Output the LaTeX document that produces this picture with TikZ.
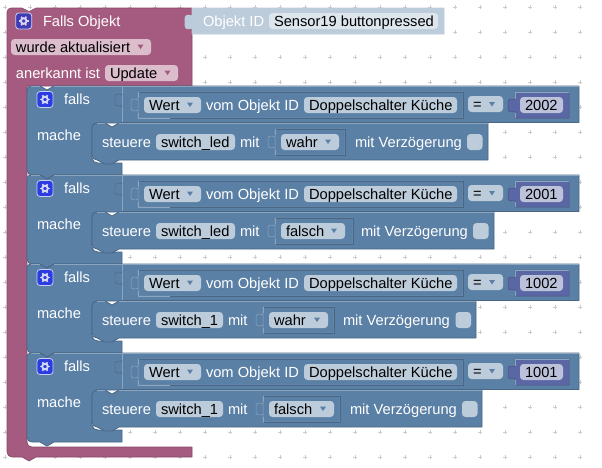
\documentclass[tikz,border=0pt]{standalone}
\usepackage{fontspec}
\usetikzlibrary{calc}
\setmainfont{Liberation Sans}
\definecolor{purp}{HTML}{A55B80}
\definecolor{purpd}{HTML}{84496A}
\definecolor{purpf}{HTML}{DBBDCC}
\definecolor{blu}{HTML}{5B80A5}
\definecolor{blud}{HTML}{496684}
\definecolor{bluh}{HTML}{8CA6C0}
\definecolor{bluf}{HTML}{BDCCDB}
\definecolor{shad}{HTML}{BDCCDB}
\definecolor{shadf}{HTML}{DEE6ED}
\definecolor{num}{HTML}{5B67A5}
\definecolor{numd}{HTML}{495284}
\definecolor{numf}{HTML}{BDC2DB}
\definecolor{gridc}{HTML}{CCCCCC}
\definecolor{iconp}{HTML}{3F3AB5}
\definecolor{iconb}{HTML}{2A3DE0}
\tikzset{
  lbl/.style={anchor=base west,inner sep=0pt,outer sep=0pt,font=\fontsize{14.67}{16}\selectfont},
  wlbl/.style={lbl,text=white},
  klbl/.style={lbl,text=black},
  fieldbox/.style={rounded corners=3.5pt},
  blockbody/.style={fill=blu,draw=blud,line width=.8pt,line join=round},
  hilite/.style={draw=bluh,line width=.8pt}
}
% tab: left-pointing puzzle tab on a vertical edge at x=#1, starting y=#2
\newcommand{\tabshape}[2]{(#1,#2) -- (#1,#2+2) .. controls (#1-3,#2) and (#1-7,#2+1) .. (#1-7,#2+3.5) -- (#1-7,#2+10.5) .. controls (#1-7,#2+13) and (#1-3,#2+14) .. (#1,#2+12) -- (#1,#2+15)}
\newcommand{\tri}[3]{\fill[#3] (#1-3,#2-2) -- (#1+3,#2-2) -- (#1,#2+2.5) -- cycle;}
\newcommand{\gear}[3]{%
  \fill[#3,rounded corners=3pt,draw=white!75!#3,line width=.8pt] (#1-8,#2-8) rectangle (#1+8,#2+8);
  \draw[white!80!#3,line width=1.9pt] (#1,#2) circle (2.8);
  \foreach \a in {0,60,...,300}{\draw[white!80!#3,line width=1.6pt] ($(#1,#2)+(\a:3)$) -- ($(#1,#2)+(\a:5)$);}
}
\begin{document}
\begin{tikzpicture}[x=1pt,y=-1pt]
\useasboundingbox (0,0) rectangle (602,467);
\fill[white] (0,0) rectangle (602,467);
% workspace grid
\foreach \i in {0,...,23}{\foreach \j in {0,...,18}{
  \draw[gridc,line width=.7pt] (5+25*\i-1.7,7+25*\j) -- (5+25*\i+1.7,7+25*\j) (5+25*\i,7+25*\j-1.7) -- (5+25*\i,7+25*\j+1.7);
}}
% hat block
\path[fill=purp,draw=purpd,line width=.6pt,line join=round]
  (7,12) .. controls (7,9.8) and (8.8,8) .. (11,8) -- (22,8) -- (29,11.5) -- (36,8) -- (192,8) -- (192,86) -- (27,86)
  -- (27,442) .. controls (27,445) and (29,447) .. (32,447) -- (192,447) -- (192,457) -- (36,457) -- (29,461) -- (22,457) -- (12,457)
  .. controls (9,457) and (7,455) .. (7,452) -- cycle;
% shadow id block
\path[fill=shad,draw=shad,line width=.6pt] (192,8) -- (444,8) -- (444,34) -- (192,34) -- (192,29) -- (192,28) .. controls (189,30) and (185,29) .. (185,26) -- (185,18) .. controls (185,15) and (189,14) .. (192,16) -- cycle;
\gear{23.7}{21}{iconp}
\node[wlbl] (hattitle) at (43,26) {Falls Objekt};
\node[wlbl] (idlabel) at (203,26) {Objekt ID};
\fill[shadf,fieldbox] (269,13) rectangle (438,29);
\node[klbl] (idvalue) at (274,26) {Sensor19 buttonpressed};
\fill[purpf,fieldbox] (11,39) rectangle (151,55);
\node[klbl] (aktual) at (16,52) {wurde aktualisiert};
\tri{140.5}{46.5}{purp}
\node[wlbl] (anerk) at (16,78) {anerkannt ist};
\fill[purpf,fieldbox] (105,65) rectangle (178,81);
\node[klbl] (update) at (110,78) {Update};
\tri{167.5}{72.5}{purp}
% rows
\foreach \n/\yy/\numv/\sw/\swe/\mitx/\frs/\fds/\val/\fde/\fre/\mvx/\chk/\rgt in {
  a/0/2002/switch\_led/235/240/275/281/wahr/339/345/356/467/488,
  b/89/2001/switch\_led/235/240/275/281/falsch/345/353/362/473/494,
  c/178/1002/switch\_1/223/228/263/269/wahr/328/334/344/455.5/476,
  d/267/1001/switch\_1/223/228/263/269/falsch/334/340/351/462/482}{
\begin{scope}[shift={(0,\yy)}]
  % C block
  \path[blockbody]
    (27,90) .. controls (27,87.5) and (28.5,86) .. (31,86) -- (40,86) -- (47,90) -- (54,86) -- (579,86) -- (579,122.5) -- (122,122.5) -- (122,123)
    -- (97,123) .. controls (94,123) and (92,125) .. (92,128) -- (92,158) .. controls (92,161) and (95,163) .. (98,163) -- (122,163) -- (122,175)
    -- (54,175) -- (47,179) -- (40,175) -- (33,175) .. controls (29,175) and (27,173) .. (27,170) -- cycle;
  \draw[hilite] (31,86.4) -- (40,86.4) (54,86.4) -- (578.6,86.4);
  \draw[hilite] (122,86.4) -- (122,122);
  % falls socket
  \draw[blud,line width=.45pt,fill=blu] \tabshape{122}{93};
  % value frame
  \path[fill=blu,draw=bluh,line width=.5pt,line join=round] \tabshape{138}{98} -- (138,118) -- (138,92) -- (463,92) -- (463,118) -- (138,118);
  \draw[blud,line width=.7pt] (138,92) -- (463,92) -- (463,118) -- (139,118);
  \draw[bluh,line width=.7pt] (138,92) -- (138,98) (138,113) -- (138,118) -- (170,118);
  % number block
  \path[fill=num,draw=numd,line width=.5pt,line join=round] (515,92) -- (569,92) -- (569,118) -- (515,118) -- (515,113) -- (515,111) .. controls (512,113) and (508,112) .. (508,109.5) -- (508,101.5) .. controls (508,99) and (512,98) .. (515,100) -- cycle;
  \draw[bluh,line width=.7pt] (515,92.3) -- (569,92.3) (515,118) -- (515,113) (515,92) -- (515,99);
  % fields upper
  \fill[bluf,fieldbox] (144,97) rectangle (201,113);
  \node[klbl] (wert\n) at (149,110) {Wert};
  \tri{190}{104.5}{blu}
  \node[wlbl] (vom\n) at (206,110) {vom Objekt ID};
  \fill[bluf,fieldbox] (304,97) rectangle (457,113);
  \node[klbl] (dopp\n) at (309,110) {Doppelschalter Küche};
  \fill[bluf,fieldbox] (468,96) rectangle (503,112);
  \node[klbl] (eq\n) at (473,109) {=};
  \tri{492}{104}{blu}
  \fill[numf,fieldbox] (520,97) rectangle (563,113);
  \node[klbl] (numv\n) at (525,110) {\numv};
  \node[wlbl] (falls\n) at (64,104) {falls};
  \node[wlbl] (mache\n) at (37,140) {mache};
  \gear{45}{99.5}{iconb}
  % statement block
  \path[blockbody]
    (92,128) .. controls (92,125) and (94,123) .. (97,123) -- (105,123) -- (112,127) -- (119,123) -- (\rgt,123) -- (\rgt,160) -- (119,160) -- (112,164) -- (105,164) -- (99,161) -- (97,160) .. controls (94,160) and (92,158) .. (92,155) -- cycle;
  \draw[hilite] (97,123.4) -- (105,123.4) (119,123.4) -- (\rgt-.4,123.4);
  \node[wlbl] (steu\n) at (102,147) {steuere};
  \fill[bluf,fieldbox] (156,134) rectangle (\swe,150);
  \node[klbl] (sw\n) at (161,147) {\sw};
  \node[wlbl] (mit\n) at (\mitx,147) {mit};
  % value input on statement
  \path[fill=blu,draw=bluh,line width=.5pt,line join=round] \tabshape{\frs}{135} -- (\frs,155) -- (\frs,129) -- (\fre,129) -- (\fre,155) -- (\frs,155);
  \draw[blud,line width=.7pt] (\frs+.5,129) -- (\fre,129) -- (\fre,155) -- (\frs+.5,155);
  \draw[bluh,line width=.7pt] (\frs,129) -- (\frs,135) (\frs,150) -- (\frs,155);
  \fill[bluf,fieldbox] (\fds,134) rectangle (\fde,150);
  \node[klbl] (val\n) at (\fds+5,147) {\val};
  \tri{\fde-11}{141.5}{blu}
  \node[wlbl] (mv\n) at (\mvx-1,147) {mit Verzögerung};
  \fill[bluf,rounded corners=3.5pt] (\chk,134) rectangle (\chk+15.5,150);
\end{scope}
}
\end{tikzpicture}
\end{document}
